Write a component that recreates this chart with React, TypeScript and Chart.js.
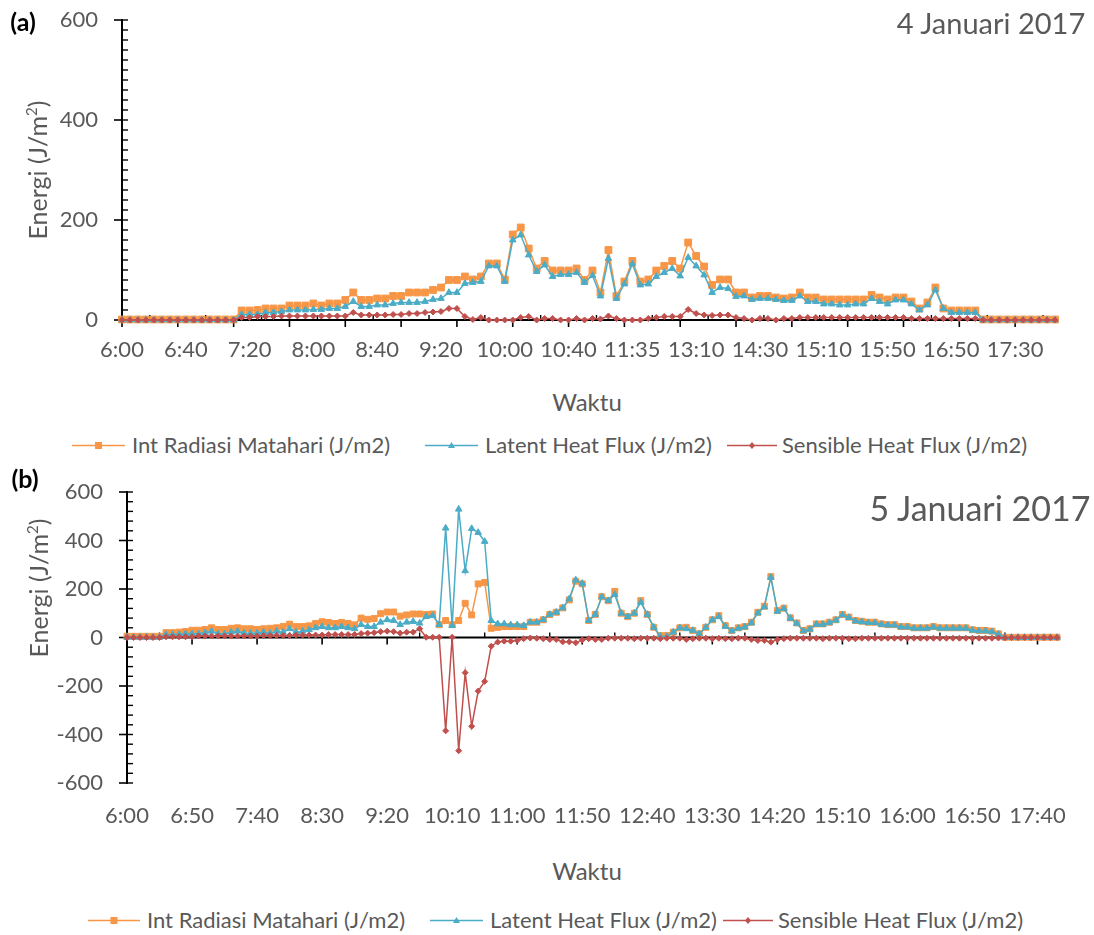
import React, { useEffect, useRef } from "react";
import { Chart, registerables } from "chart.js";

Chart.register(...registerables);

// ---------- data ----------
const LABELS_A = (
  "6:00 6:05 6:10 6:15 6:20 6:25 6:30 6:35 6:40 6:45 6:50 6:55 " +
  "7:00 7:05 7:10 7:15 7:20 7:25 7:30 7:35 7:40 7:45 7:50 7:55 " +
  "8:00 8:05 8:10 8:15 8:20 8:25 8:30 8:35 8:40 8:45 8:50 8:55 " +
  "9:00 9:05 9:10 9:15 9:20 9:25 9:30 9:35 9:40 9:45 9:50 9:55 " +
  "10:00 10:05 10:10 10:15 10:20 10:25 10:30 10:35 10:40 " +
  "10:45 10:50 10:55 11:05 11:15 11:25 11:30 11:35 " +
  "11:40 11:45 11:50 12:00 12:20 12:40 13:00 13:10 " +
  "13:15 13:20 13:30 13:45 14:00 14:15 14:25 14:30 " +
  "14:35 14:40 14:45 14:50 14:55 15:00 15:05 15:10 " +
  "15:15 15:20 15:25 15:30 15:35 15:40 15:45 15:50 " +
  "15:55 16:00 16:10 16:20 16:30 16:40 16:45 16:50 " +
  "16:55 17:00 17:05 17:10 17:15 17:20 17:25 17:30 " +
  "17:35 17:40 17:45 17:50 17:55"
).split(" ");

const LABELS_B = (
  "6:00 6:05 6:10 6:15 6:20 6:25 6:30 6:35 6:40 6:45 6:50 6:55 " +
  "7:00 7:05 7:10 7:15 7:20 7:25 7:30 7:35 7:40 7:45 7:50 7:55 " +
  "8:00 8:05 8:10 8:15 8:20 8:25 8:30 8:35 8:40 8:45 8:50 8:55 " +
  "9:00 9:05 9:10 9:15 9:20 9:25 9:30 9:35 9:40 9:45 9:50 9:55 " +
  "10:00 10:05 10:10 10:15 10:20 10:25 10:30 10:35 10:40 10:45 10:50 10:55 " +
  "11:00 11:05 11:10 11:15 11:20 11:25 11:30 11:35 11:40 11:45 11:50 11:55 " +
  "12:00 12:05 12:10 12:15 12:20 12:25 12:30 12:35 12:40 12:45 12:50 12:55 " +
  "13:00 13:05 13:10 13:15 13:20 13:25 13:30 13:35 13:40 13:45 13:50 13:55 " +
  "14:00 14:05 14:10 14:15 14:20 14:25 14:30 14:35 14:40 14:45 14:50 14:55 " +
  "15:00 15:05 15:10 15:15 15:20 15:25 15:30 15:35 15:40 15:45 15:50 15:55 " +
  "16:00 16:05 16:10 16:15 16:20 16:25 16:30 16:35 16:40 16:45 16:50 16:55 " +
  "17:00 17:05 17:10 17:15 17:20 17:25 17:30 17:35 17:40 17:45 17:50 17:55"
).split(" ");

const RADIASI_A = [
  1, 1, 1, 1, 1, 1, 1, 1, 1, 1, 1, 1, 1, 1, 1,
  19, 19, 20, 23, 23, 23, 29, 29, 29, 33, 29, 33, 33, 40, 55, 40, 40, 43, 43, 48, 48, 55, 55, 55, 60, 65, 80, 80, 87, 81, 87, 113, 113,
  81, 171, 185, 143, 103, 118, 99, 99, 99, 103, 80, 99, 55, 140, 48, 77, 118, 77, 81, 99, 108, 118, 103, 155, 128, 107, 70, 81, 81, 55, 55, 45, 48, 48, 45, 43, 45, 55,
  45, 45, 41, 41, 41, 41, 41, 41, 50, 45, 41, 45, 45, 37, 23, 35, 65, 23, 19, 19, 19, 19,
  1, 1, 1, 1, 1, 1, 1, 1, 1, 1,
];
const LATENT_A = [
  0, 0, 0, 0, 0, 0, 0, 0, 0, 0, 0, 0, 0, 0, 0,
  11, 11, 11, 15, 15, 17, 20, 20, 20, 21, 21, 23, 23, 27, 37, 27, 27, 30, 30, 33, 35, 35, 35, 37, 41, 43, 55, 55, 73, 75, 77, 108, 108,
  77, 160, 170, 130, 97, 110, 87, 91, 91, 95, 75, 89, 48, 123, 43, 72, 112, 70, 72, 87, 95, 103, 88, 125, 108, 90, 55, 65, 63, 47, 48, 41, 43, 43, 41, 39, 39,
  48, 37, 37, 32, 32, 30, 30, 32, 32, 43, 37, 32, 40, 40, 32, 20, 30, 60, 23, 15, 15, 15, 15,
  0, 0, 0, 0, 0, 0, 0, 0, 0, 0,
];
const SENSIBLE_A = [
  0, 0, 0, 0, 0, 0, 0, 0, 0, 0, 0, 0, 0, 0, 0,
  5, 5, 7, 7, 7, 8, 8, 8, 8, 8, 8, 8, 8, 8, 15, 10, 10, 10, 10, 11, 11, 13, 13, 15, 16, 17, 23, 23, 7, 1, 5, 0, 0,
  0, 0, 5, 7, 0, 3, 3, 0, 0, 3, 0, 3, 2, 8, 3, 0, 0, 0, 3, 5, 7, 7, 7, 21, 13, 10, 9, 10, 10, 5, 3, 0, 3, 3, 0, 3, 3, 5,
  5, 5, 5, 5, 5, 5, 5, 5, 5, 5, 5, 5, 5, 3, 3, 3, 3, 3, 3, 3, 3, 3,
  0, 0, 0, 0, 0, 0, 0, 0, 0, 0,
];

const RADIASI_B = [
  5, 5, 5, 5, 5, 5,
  20, 20, 22, 25, 30, 30, 33, 40, 33, 33, 38, 40, 36, 36, 33, 36, 38, 40, 45, 55, 45, 45, 48, 58, 65, 62, 58, 62, 58, 52, 80, 75, 78, 98, 105, 105,
  88, 93, 97, 97, 95, 97, 53, 70, 53, 70, 141, 93, 221, 227, 38, 42, 45, 45, 45, 45, 63, 63, 73, 95, 104, 122, 155, 232, 221, 70, 95, 168, 152, 190, 100, 86, 100, 152, 95, 42, 8, 8, 22, 40, 42, 29, 15, 42, 73, 90,
  49, 29, 40, 45, 63, 104, 129, 251, 111, 121, 81, 60, 29, 36, 56, 56, 63, 73, 95, 84, 70, 67, 63, 63, 56, 53, 53, 45, 45, 40, 40, 40, 45, 40, 40, 40, 40, 40, 32, 29, 29, 26, 15, 1,
  1, 1, 1, 1, 1, 1, 1, 1,
];
const LATENT_B = [
  1, 1, 1, 1, 1, 1,
  12, 12, 12, 15, 15, 15, 20, 26, 15, 15, 22, 26, 18, 18, 18, 22, 18, 26, 22, 36, 22, 26, 32, 40, 45, 40, 40, 45, 40, 36, 53, 45, 45, 63, 73, 70,
  53, 63, 66, 59, 86, 90, 53, 451, 49, 529, 275, 449, 433, 396, 70, 56, 56, 52, 52, 49, 63, 63, 73, 95, 104, 122, 159, 237, 223, 70, 95, 168, 152, 177, 100, 86, 100, 145, 95, 42, 4, 4, 22, 40, 36, 29, 15, 42, 73, 86,
  46, 27, 38, 43, 60, 101, 126, 248, 108, 119, 79, 58, 27, 34, 54, 54, 61, 71, 93, 82, 68, 65, 61, 61, 54, 51, 51, 43, 43, 38, 38, 38, 43, 38, 38, 38, 38, 38, 30, 27, 27, 24, 13, 0,
  0, 0, 0, 0, 0, 0, 0, 0,
];
const SENSIBLE_B = [
  0, 0, 0, 0, 0, 0,
  3, 3, 3, 3, 3,
  6, 6, 6, 6, 6, 6, 6, 6, 6, 6,
  8, 8, 8, 8, 8,
  10, 10, 10, 10, 10,
  12, 12, 12, 12, 12,
  16, 18, 20, 24, 26, 24,
  18, 22, 22, 36, 1, 1, 1, -385, 1, -467, -145, -366, -221, -181, -36, -19, -15, -15, -12, -5,
  -2, -3, -5, -8, -8, -18, -18, -22, -10, -5, -8, -8, -3, -3, -3, -3, -5, -3, -3, -3, -5, -3, -3, -3, -8, -5, -3, -3, -5, -3, -5, -5, -3, -3, -8, -12, -12, -19,
  -8, -5, -3, -3, -3, -3, -3, -5, -3, -3, -3, -5, -5, -3, -3, -3, -3, -3, -3, -3, -3, -3, -3, -3, -3, -3, -3, -3, -3, -3, -3, -3, -3, -3, -2, -1,
  0, 0, 0, 0, 0, 0, 0, 0,
];

const SERIES_NAMES = [
  "Int Radiasi Matahari (J/m2)",
  "Latent Heat Flux (J/m2)",
  "Sensible Heat Flux (J/m2)",
];

// ---------- style ----------
const FONT = "Lato, 'Open Sans', sans-serif";
const GRAY = "#595959";
const ORANGE = "#F79646";
const BLUE = "#4BACC6";
const RED = "#C0504D";

const axisDeco = {
  id: "axisDeco",
  beforeDatasetsDraw(chart: any, _args: any, o: any) {
    const { ctx, chartArea: ca } = chart;
    const xs = chart.scales.x;
    const ys = chart.scales.y;
    const n = chart.data.labels.length;
    ctx.save();
    ctx.strokeStyle = "#000";
    const seg = (x1: number, y1: number, x2: number, y2: number, w: number) => {
      ctx.lineWidth = w;
      ctx.beginPath();
      ctx.moveTo(x1, y1);
      ctx.lineTo(x2, y2);
      ctx.stroke();
    };
    for (let v = o.yMin; v <= o.yMax + 1e-9; v += o.yMinor) {
      const p = ys.getPixelForValue(v);
      seg(ca.left, p, ca.left + 6, p, 1.4);
    }
    for (let v = o.yMin; v <= o.yMax + 1e-9; v += o.yMajor) {
      const p = ys.getPixelForValue(v);
      seg(ca.left - 8, p, ca.left, p, 1.6);
    }
    seg(ca.left, ys.getPixelForValue(o.yMax) - 1, ca.left, ys.getPixelForValue(o.yMin) + 1, 2);
    const y0 = ys.getPixelForValue(0);
    for (let i = 0; i < n; i += o.xMajor) {
      const p = xs.getPixelForValue(i);
      seg(p, y0, p, y0 + 7, 1.6);
    }
    for (let i = o.xMajor / 2; i < n; i += o.xMajor) {
      const p = xs.getPixelForValue(i);
      seg(p, y0, p, y0 - 5, 1.4);
    }
    seg(ca.left, y0, ca.right, y0, 2);
    ctx.restore();
  },
};

type PanelProps = {
  top: number;
  height: number;
  labels: string[];
  radiasi: number[];
  latent: number[];
  sensible: number[];
  yMin: number;
  yMax: number;
  yMinor: number;
  xMajor: number;
  labelEvery: number;
  padTop: number;
  padRight: number;
  yWidth: number;
  xHeight: number;
  xPad: number;
  rSquare: number;
  rTri: number;
  rDia: number;
};

function Panel(p: PanelProps) {
  const ref = useRef<HTMLCanvasElement | null>(null);
  useEffect(() => {
    if (!ref.current) return;
    const tickFont = { family: FONT, size: 22 };
    const chart = new Chart(ref.current, {
      type: "line",
      data: {
        labels: p.labels,
        datasets: [
          {
            label: SERIES_NAMES[0],
            data: p.radiasi,
            borderColor: ORANGE,
            backgroundColor: ORANGE,
            pointBackgroundColor: ORANGE,
            pointBorderColor: ORANGE,
            pointStyle: "rect",
            pointRadius: p.rSquare,
            pointBorderWidth: 1,
            borderWidth: 1.5,
            order: 3,
            clip: false as any,
          },
          {
            label: SERIES_NAMES[1],
            data: p.latent,
            borderColor: BLUE,
            backgroundColor: BLUE,
            pointBackgroundColor: BLUE,
            pointBorderColor: BLUE,
            pointStyle: "triangle",
            pointRadius: p.rTri,
            pointBorderWidth: 1,
            borderWidth: 1.5,
            order: 2,
            clip: false as any,
          },
          {
            label: SERIES_NAMES[2],
            data: p.sensible,
            borderColor: RED,
            backgroundColor: RED,
            pointBackgroundColor: RED,
            pointBorderColor: RED,
            pointStyle: "rectRot",
            pointRadius: p.rDia,
            pointBorderWidth: 1,
            borderWidth: 1.5,
            order: 1,
            clip: false as any,
          },
        ],
      },
      options: {
        responsive: true,
        maintainAspectRatio: false,
        animation: false,
        layout: { autoPadding: false, padding: { top: p.padTop, right: p.padRight, left: 0, bottom: 0 } } as any,
        plugins: {
          legend: { display: false },
          tooltip: { enabled: false },
          axisDeco: { yMin: p.yMin, yMax: p.yMax, yMinor: p.yMinor, yMajor: 200, xMajor: p.xMajor },
        } as any,
        scales: {
          x: {
            type: "category",
            grid: { display: false, drawTicks: false },
            border: { display: false },
            ticks: {
              autoSkip: false,
              maxRotation: 0,
              minRotation: 0,
              padding: p.xPad,
              color: GRAY,
              font: tickFont,
              callback: (_v: any, i: number) => (i % p.labelEvery === 0 ? p.labels[i] : ""),
            },
            afterFit: (s: any) => {
              s.height = p.xHeight;
            },
          },
          y: {
            min: p.yMin,
            max: p.yMax,
            grid: { display: false, drawTicks: true, tickLength: 24, tickColor: "rgba(0,0,0,0)" },
            border: { display: false },
            ticks: {
              stepSize: 200,
              padding: 0,
              color: GRAY,
              font: tickFont,
              callback: (v: any) => String(v),
            },
            afterFit: (s: any) => {
              s.width = p.yWidth;
            },
          },
        },
      },
      plugins: [axisDeco as any],
    });
    return () => chart.destroy();
  }, []);
  return (
    <div style={{ position: "absolute", left: 0, top: p.top, width: 1094, height: p.height }}>
      <canvas ref={ref} />
    </div>
  );
}

function Txt(props: { x: number; y: number; size: number; children: any; color?: string; bold?: boolean; rotate?: boolean; align?: "center" | "left" }) {
  const { x, y, size, color = GRAY, bold = false, rotate = false, align = "center" } = props;
  const tf =
    align === "left"
      ? "translate(0,-50%)"
      : rotate
      ? "translate(-50%,-50%) rotate(-90deg)"
      : "translate(-50%,-50%)";
  return (
    <div
      style={{
        position: "absolute",
        left: x,
        top: y,
        transform: tf,
        fontFamily: FONT,
        fontSize: size,
        fontWeight: bold ? 700 : 400,
        color,
        whiteSpace: "nowrap",
        lineHeight: 1,
      }}
    >
      {props.children}
    </div>
  );
}

function LegendIcon(props: { x1: number; x2: number; y: number; color: string; shape: "square" | "triangle" | "diamond" }) {
  const { x1, x2, y, color, shape } = props;
  const w = x2 - x1;
  const cx = w / 2;
  let marker: any = null;
  if (shape === "square") marker = <rect x={cx - 3.5} y={3} width={7} height={7} fill={color} />;
  if (shape === "triangle") marker = <polygon points={`${cx},3 ${cx + 3.5},9 ${cx - 3.5},9`} fill={color} />;
  if (shape === "diamond") marker = <polygon points={`${cx},3 ${cx + 3},6.5 ${cx},10 ${cx - 3},6.5`} fill={color} />;
  return (
    <svg style={{ position: "absolute", left: x1, top: y - 6.5 }} width={w} height={13}>
      <line x1={0} y1={6.5} x2={w} y2={6.5} stroke={color} strokeWidth={1.6} />
      {marker}
    </svg>
  );
}

function Legend(props: { y: number; items: { x1: number; x2: number; tx: number }[] }) {
  const colors = [ORANGE, BLUE, RED];
  const shapes: ("square" | "triangle" | "diamond")[] = ["square", "triangle", "diamond"];
  return (
    <>
      {props.items.map((it, i) => (
        <React.Fragment key={i}>
          <LegendIcon x1={it.x1} x2={it.x2} y={props.y} color={colors[i]} shape={shapes[i]} />
          <Txt x={it.tx} y={props.y} size={22} align="left">
            {SERIES_NAMES[i]}
          </Txt>
        </React.Fragment>
      ))}
    </>
  );
}

export default function App() {
  return (
    <div style={{ position: "absolute", left: 0, top: 0, width: 1094, height: 935, background: "#fff", overflow: "hidden" }}>
      <Panel
        top={0}
        height={380}
        labels={LABELS_A}
        radiasi={RADIASI_A}
        latent={LATENT_A}
        sensible={SENSIBLE_A}
        yMin={0}
        yMax={600}
        yMinor={20}
        xMajor={7}
        labelEvery={8}
        padTop={20}
        padRight={39}
        yWidth={122}
        xHeight={60}
        xPad={17}
        rSquare={4.8}
        rTri={3.8}
        rDia={3}
      />
      <Panel
        top={470}
        height={380}
        labels={LABELS_B}
        radiasi={RADIASI_B}
        latent={LATENT_B}
        sensible={SENSIBLE_B}
        yMin={-600}
        yMax={600}
        yMinor={40}
        xMajor={10}
        labelEvery={10}
        padTop={22}
        padRight={37}
        yWidth={127}
        xHeight={67}
        xPad={20}
        rSquare={4.2}
        rTri={3.8}
        rDia={3}
      />
      <Txt x={23} y={21} size={25} bold color="#000">(a)</Txt>
      <Txt x={991} y={22} size={29}>4 Januari 2017</Txt>
      <Txt x={37} y={170} size={25} rotate>
        Energi (J/m<sup style={{ fontSize: "0.6em", lineHeight: 0 }}>2</sup>)
      </Txt>
      <Txt x={587} y={402} size={24}>Waktu</Txt>
      <Legend
        y={445}
        items={[
          { x1: 72, x2: 125, tx: 132 },
          { x1: 425, x2: 478, tx: 485 },
          { x1: 727, x2: 777, tx: 782 },
        ]}
      />

      <Txt x={25} y={478} size={25} bold color="#000">(b)</Txt>
      <Txt x={980} y={508} size={34}>5 Januari 2017</Txt>
      <Txt x={38} y={588} size={25} rotate>
        Energi (J/m<sup style={{ fontSize: "0.6em", lineHeight: 0 }}>2</sup>)
      </Txt>
      <Txt x={587} y={871} size={24}>Waktu</Txt>
      <Legend
        y={920}
        items={[
          { x1: 88, x2: 140, tx: 147 },
          { x1: 430, x2: 483, tx: 490 },
          { x1: 723, x2: 773, tx: 778 },
        ]}
      />
    </div>
  );
}
